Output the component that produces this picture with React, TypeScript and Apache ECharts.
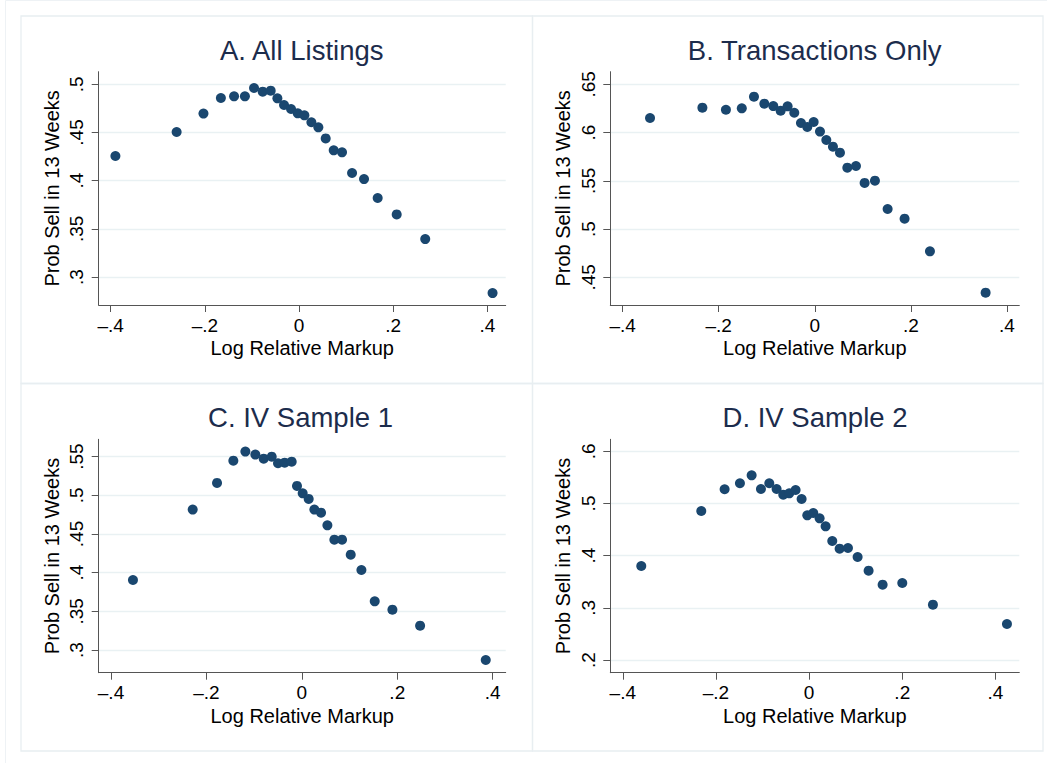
import React, { useEffect, useRef } from "react";
import * as echarts from "echarts";

// Panel titles
const panelTitles = ["A. All Listings", "B. Transactions Only", "C. IV Sample 1", "D. IV Sample 2"];
const xAxisTitle = "Log Relative Markup";
const yAxisTitle = "Prob Sell in 13 Weeks";

// Tick values / labels
const xTickValues = [-0.4, -0.2, 0, 0.2, 0.4];
const xTickLabels = ["\u2013.4", "\u2013.2", "0", ".2", ".4"];
const yTicksA = [0.3, 0.35, 0.4, 0.45, 0.5];
const yLabelsA = [".3", ".35", ".4", ".45", ".5"];
const yTicksB = [0.45, 0.5, 0.55, 0.6, 0.65];
const yLabelsB = [".45", ".5", ".55", ".6", ".65"];
const yTicksC = [0.3, 0.35, 0.4, 0.45, 0.5, 0.55];
const yLabelsC = [".3", ".35", ".4", ".45", ".5", ".55"];
const yTicksD = [0.2, 0.3, 0.4, 0.5, 0.6];
const yLabelsD = [".2", ".3", ".4", ".5", ".6"];

// Panel A: All Listings
const xA = [-0.390, -0.260, -0.203, -0.166, -0.138, -0.115, -0.0956, -0.0772, -0.0602, -0.046, -0.0319, -0.017, -0.0028, 0.0113, 0.0262, 0.041, 0.0566, 0.0736, 0.0913, 0.1126, 0.138, 0.167, 0.2074, 0.268, 0.411];
const yA = [0.4256, 0.4505, 0.4696, 0.4858, 0.4875, 0.4875, 0.4962, 0.4924, 0.4934, 0.4855, 0.4785, 0.4744, 0.4699, 0.4678, 0.4606, 0.4554, 0.4439, 0.4315, 0.4294, 0.408, 0.4017, 0.382, 0.365, 0.3394, 0.2834];

// Panel B: Transactions Only
const xB = [-0.343, -0.234, -0.185, -0.152, -0.1266, -0.105, -0.0864, -0.0711, -0.0566, -0.0427, -0.0288, -0.0156, -0.0024, 0.0108, 0.024, 0.0378, 0.0524, 0.0677, 0.0857, 0.1037, 0.1252, 0.1516, 0.1869, 0.2397, 0.3556];
const yB = [0.6151, 0.6258, 0.6237, 0.6251, 0.6372, 0.63, 0.6275, 0.6227, 0.6272, 0.6206, 0.6099, 0.6058, 0.611, 0.601, 0.5923, 0.5854, 0.5792, 0.5636, 0.5654, 0.5478, 0.5502, 0.5208, 0.5108, 0.4769, 0.4341];

// Panel C: IV Sample 1
const xC = [-0.354, -0.2288, -0.1778, -0.1436, -0.1184, -0.0975, -0.08, -0.0632, -0.05, -0.036, -0.0213, -0.0102, 0.0017, 0.0143, 0.0262, 0.0402, 0.0535, 0.0681, 0.0842, 0.1024, 0.1248, 0.1527, 0.1898, 0.2478, 0.3854];
const yC = [0.3905, 0.4815, 0.516, 0.5448, 0.5565, 0.5526, 0.5474, 0.55, 0.5414, 0.5422, 0.5435, 0.5121, 0.5026, 0.4953, 0.4815, 0.4776, 0.4612, 0.4427, 0.4427, 0.4233, 0.4034, 0.3629, 0.3522, 0.3315, 0.2871];

// Panel D: IV Sample 2
const xD = [-0.3603, -0.2315, -0.1814, -0.1485, -0.1234, -0.1034, -0.0855, -0.0698, -0.0555, -0.0426, -0.029, -0.0161, -0.0039, 0.0089, 0.0225, 0.0354, 0.0497, 0.0655, 0.0834, 0.1041, 0.1277, 0.1578, 0.2, 0.2658, 0.4247];
const yD = [0.3802, 0.4856, 0.5272, 0.5387, 0.554, 0.5278, 0.5387, 0.5278, 0.5169, 0.5195, 0.5259, 0.5086, 0.4773, 0.4818, 0.4716, 0.4562, 0.4281, 0.4134, 0.4147, 0.3974, 0.3712, 0.3444, 0.3476, 0.3061, 0.269];

const FONT = "'Liberation Sans', Arial, Helvetica, sans-serif";
const MARKER = "#1a476f";
const TITLE_COLOR = "#1c2c4c";
const AXIS_COLOR = "#555555";
const GRID_COLOR = "#e9f1f3";
const BORDER_COLOR = "#e8eef1";

function lookup(values: number[], labels: string[]) {
  return (v: number) => {
    for (let i = 0; i < values.length; i++) {
      if (Math.abs(values[i] - v) < 1e-9) return labels[i];
    }
    return "";
  };
}

export default function App() {
  const ref = useRef<HTMLDivElement>(null);
  useEffect(() => {
    if (!ref.current) return;
    const chart = echarts.init(ref.current, undefined, { renderer: "svg" });

    const panels = [
      { x: xA, y: yA, yt: yTicksA, yl: yLabelsA, xr: [-0.4255, 0.4389], yr: [0.271, 0.5131], grid: { left: 98.7, top: 71.7, width: 407, height: 233.3 }, title: [301.7, 50.7] },
      { x: xB, y: yB, yt: yTicksB, yl: yLabelsB, xr: [-0.4257, 0.4257], yr: [0.4213, 0.6631], grid: { left: 610.3, top: 71.7, width: 409, height: 233.3 }, title: [814.7, 50.7] },
      { x: xC, y: yC, yt: yTicksC, yl: yLabelsC, xr: [-0.4258, 0.4272], yr: [0.2707, 0.5724], grid: { left: 98.7, top: 439.3, width: 407, height: 233.4 }, title: [300.5, 417.3] },
      { x: xD, y: yD, yt: yTicksD, yl: yLabelsD, xr: [-0.4268, 0.4512], yr: [0.1757, 0.623], grid: { left: 610.3, top: 439.3, width: 409, height: 233.4 }, title: [815, 417.3] },
    ];

    const option: any = {
      animation: false,
      backgroundColor: "#ffffff",
      textStyle: { fontFamily: FONT },
      title: panels.map((p, i) => ({
        text: panelTitles[i],
        left: p.title[0],
        top: p.title[1],
        textAlign: "center",
        textVerticalAlign: "middle",
        padding: 0,
        textStyle: { fontFamily: FONT, fontSize: 27.5, fontWeight: "normal", color: TITLE_COLOR },
      })),
      grid: panels.map((p) => ({ ...p.grid, containLabel: false })),
      xAxis: panels.map((p, i) => ({
        type: "value",
        gridIndex: i,
        min: p.xr[0],
        max: p.xr[1],
        name: xAxisTitle,
        nameLocation: "middle",
        nameGap: 33,
        nameTextStyle: { fontFamily: FONT, fontSize: 20, color: "#000" },
        axisLine: { show: true, onZero: false, lineStyle: { color: AXIS_COLOR, width: 1 } },
        axisTick: { show: true, length: 7, customValues: xTickValues, lineStyle: { color: AXIS_COLOR } },
        axisLabel: {
          customValues: xTickValues,
          formatter: lookup(xTickValues, xTickLabels),
          fontFamily: FONT,
          fontSize: 19,
          color: "#000",
          margin: 10.5,
        },
        splitLine: { show: false },
      })),
      yAxis: panels.map((p, i) => ({
        type: "value",
        gridIndex: i,
        min: p.yr[0],
        max: p.yr[1],
        name: yAxisTitle,
        nameLocation: "middle",
        nameGap: 37,
        nameRotate: 90,
        nameTextStyle: { fontFamily: FONT, fontSize: 20, color: "#000" },
        axisLine: { show: true, onZero: false, lineStyle: { color: AXIS_COLOR, width: 1 } },
        axisTick: { show: true, length: 7, customValues: p.yt, lineStyle: { color: AXIS_COLOR } },
        axisLabel: {
          customValues: p.yt,
          formatter: lookup(p.yt, p.yl),
          rotate: 90,
          fontFamily: FONT,
          fontSize: 19,
          color: "#000",
          margin: 12.5,
        },
        splitLine: { show: true, lineStyle: { color: GRID_COLOR, width: 1.3 } },
      })),
      series: panels.map((p, i) => ({
        type: "scatter",
        xAxisIndex: i,
        yAxisIndex: i,
        symbol: "circle",
        symbolSize: 10,
        itemStyle: { color: MARKER, opacity: 1 },
        data: p.x.map((xv, j) => [xv, p.y[j]]),
        z: 5,
      })),
      graphic: [
        { type: "rect", shape: { x: 5.5, y: 0.5, width: 1100, height: 800 }, style: { fill: "none", stroke: "#eef2f5", lineWidth: 1 }, silent: true, z: -10 },
        { type: "rect", shape: { x: 21, y: 16, width: 511.5, height: 367.5 }, style: { fill: "none", stroke: BORDER_COLOR, lineWidth: 1.3 }, silent: true, z: -10 },
        { type: "rect", shape: { x: 532.5, y: 16, width: 510.5, height: 367.5 }, style: { fill: "none", stroke: BORDER_COLOR, lineWidth: 1.3 }, silent: true, z: -10 },
        { type: "rect", shape: { x: 21, y: 383.5, width: 511.5, height: 367.5 }, style: { fill: "none", stroke: BORDER_COLOR, lineWidth: 1.3 }, silent: true, z: -10 },
        { type: "rect", shape: { x: 532.5, y: 383.5, width: 510.5, height: 367.5 }, style: { fill: "none", stroke: BORDER_COLOR, lineWidth: 1.3 }, silent: true, z: -10 },
      ],
    };

    chart.setOption(option);
    return () => chart.dispose();
  }, []);

  return (
    <div
      ref={ref}
      style={{ position: "absolute", left: 0, top: 0, width: 1047, height: 763, background: "#fff" }}
    />
  );
}
